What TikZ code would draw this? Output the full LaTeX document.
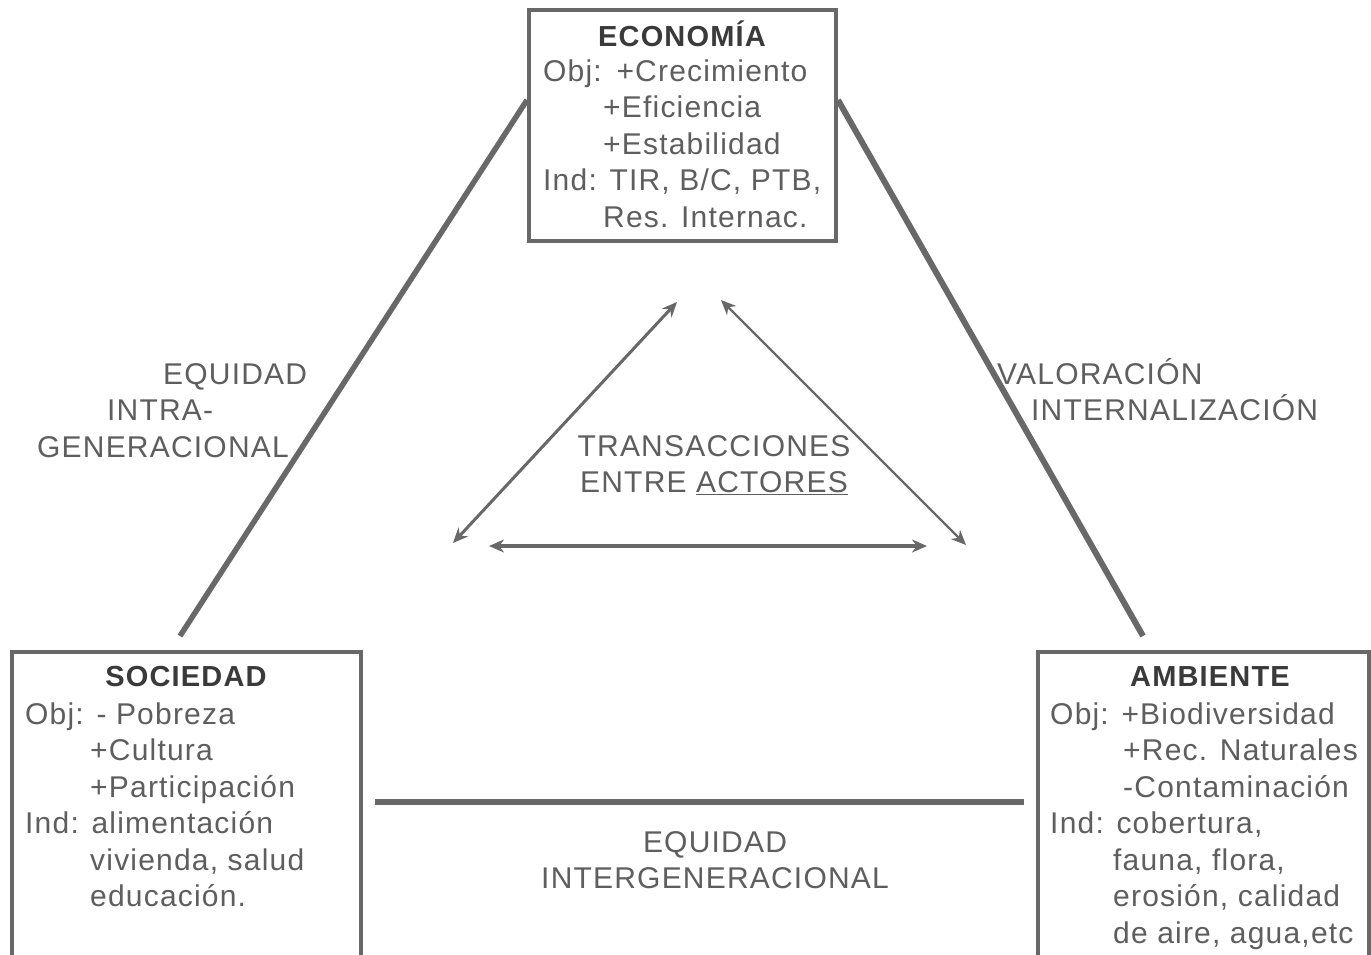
\documentclass[tikz,border=0pt]{standalone}
\usepackage{fontspec}
\setmainfont{Liberation Sans}[LetterSpace=4]
\usetikzlibrary{arrows.meta}
\definecolor{ln}{HTML}{686868}
\definecolor{tx}{HTML}{5E5E5E}
\definecolor{tt}{HTML}{3A3A3A}
\tikzset{
  box/.style={draw=ln, line width=3.5pt, inner sep=0pt},
  txt/.style={text=tx, inner sep=0pt, anchor=base west, font=\fontsize{30}{36.5}\selectfont},
  ttl/.style={text=tt, inner sep=0pt, anchor=base, font=\fontsize{29}{36}\selectfont\bfseries},
  big/.style={draw=ln, line width=5.5pt},
  dbl/.style={draw=ln, {Stealth[length=15pt,width=13pt]}-{Stealth[length=15pt,width=13pt]}}
}
\begin{document}
\begin{tikzpicture}[x=1pt,y=-1pt]
\clip (0,0) rectangle (1371,954);
\fill[white] (0,0) rectangle (1371,954);
% boxes
\node[box, minimum width=307pt, minimum height=231pt] (eco) at (682.5,125.5) {};
\node[box, minimum width=349pt, minimum height=320pt] (soc) at (186.5,812) {};
\node[box, minimum width=331pt, minimum height=320pt] (amb) at (1203.5,812) {};
% titles
\node[ttl] (ecot) at (682,46) {ECONOMÍA};
\node[ttl] (soct) at (186,686) {SOCIEDAD};
\node[ttl] (ambt) at (1210,686) {AMBIENTE};
% box texts
\node[txt] (ecox) at (543,81) {\begin{tabular}[t]{@{}l@{}}
Obj: \hspace{2pt}+Crecimiento\\
\hspace{60pt}+Eficiencia\\
\hspace{60pt}+Estabilidad\\
Ind: TIR, B/C, PTB,\\
\hspace{60pt}Res. Internac.
\end{tabular}};
\node[txt] (socx) at (25,724) {\begin{tabular}[t]{@{}l@{}}
Obj: - Pobreza\\
\hspace{65pt}+Cultura\\
\hspace{65pt}+Participación\\
Ind: alimentación\\
\hspace{65pt}vivienda, salud\\
\hspace{65pt}educación.
\end{tabular}};
\node[txt] (ambx) at (1050,724) {\begin{tabular}[t]{@{}l@{}}
Obj: +Biodiversidad\\
\hspace{73pt}+Rec. Naturales\\
\hspace{73pt}-Contaminación\\
Ind: cobertura,\\
\hspace{63pt}fauna, flora,\\
\hspace{63pt}erosión, calidad\\
\hspace{63pt}de aire, agua,etc
\end{tabular}};
% endpoints
\coordinate (eL) at (527,100);
\coordinate (sT) at (180,636);
\coordinate (eR) at (838,100);
\coordinate (aT) at (1143,636);
\coordinate (sR) at (375,802);
\coordinate (aL) at (1024,802);
\coordinate (i1) at (677,302);
\coordinate (i2) at (453,543);
\coordinate (i3) at (721,300);
\coordinate (i4) at (966,545);
\coordinate (i5) at (489,546);
\coordinate (i6) at (927,546);
% main lines
\draw[big] (eL) -- (sT);
\draw[big, line width=6pt] (eR) -- (aT);
\draw[big, line width=6pt] (sR) -- (aL);
% inner arrows
\draw[dbl, line width=3pt] (i1) -- (i2);
\draw[dbl, line width=2.2pt] (i3) -- (i4);
\draw[dbl, line width=3.5pt] (i5) -- (i6);
% labels
\node[txt] (lq) at (37,384) {\begin{tabular}[t]{@{}l@{}}
\hspace{126pt}EQUIDAD\\
\hspace{70pt}INTRA-\\
GENERACIONAL
\end{tabular}};
\node[txt] (rq) at (997,384) {\begin{tabular}[t]{@{}l@{}}
VALORACIÓN\\
\hspace{34pt}INTERNALIZACIÓN
\end{tabular}};
\node[txt, anchor=base] (tr) at (714,456) {\begin{tabular}[t]{@{}c@{}}
TRANSACCIONES\\
ENTRE \underline{ACTORES}
\end{tabular}};
\node[txt, anchor=base] (bq) at (715,852) {\begin{tabular}[t]{@{}c@{}}
EQUIDAD\\
INTERGENERACIONAL
\end{tabular}};
\end{tikzpicture}
\end{document}
